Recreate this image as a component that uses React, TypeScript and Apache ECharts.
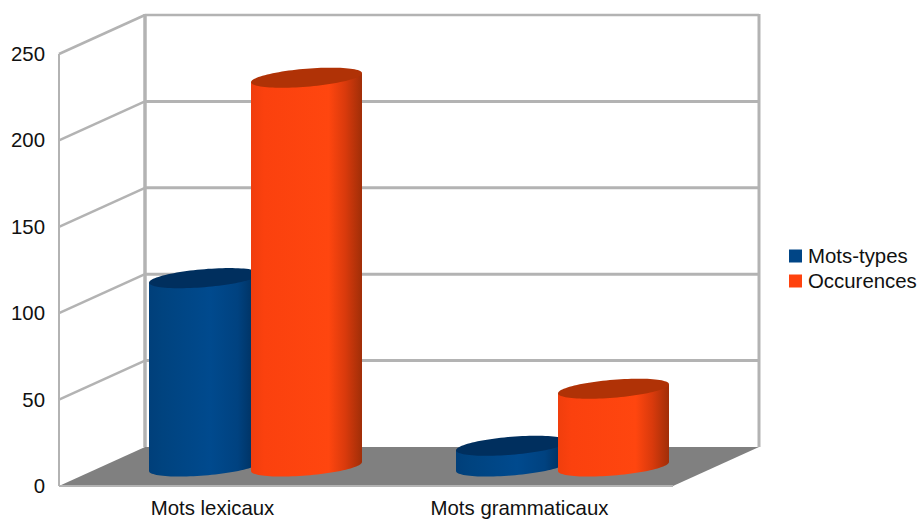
import React, { useEffect, useRef } from "react";
import * as echarts from "echarts";

const categories = ["Mots lexicaux", "Mots grammaticaux"];
const motsTypes = [109, 12];
const occurences = [225, 45];
const yTicks = [0, 50, 100, 150, 200, 250];

const DEPTH_X = 86;
const DEPTH_Y = -39;
const LINE = "#b3b3b3";
const FONT = "'Liberation Sans', Arial, sans-serif";
const TEXT_SIZE = 20.4;

function wallItem(params: any, api: any) {
  const cs = params.coordSys;
  const tick = api.value(1);
  const [, y] = api.coord([0, tick]);
  const x0 = cs.x;
  const x1 = cs.x + cs.width;
  const line = (a: number, b: number, c: number, d: number, w: number) => ({
    type: "line",
    shape: { x1: a, y1: b, x2: c, y2: d },
    style: { stroke: LINE, lineWidth: w },
  });
  const children: any[] = [];
  if (tick === 0) {
    const bottom = y;
    const top = cs.y;
    children.push({
      type: "polygon",
      shape: {
        points: [
          [x0, bottom],
          [x0 + DEPTH_X, bottom + DEPTH_Y],
          [x1 + DEPTH_X, bottom + DEPTH_Y],
          [x1, bottom],
        ],
      },
      style: { fill: "#808080" },
    });
    children.push(line(x0, top, x0, bottom, 2));
    children.push(line(x0, bottom, x1, bottom, 2));
    children.push(line(x0 + DEPTH_X, top + DEPTH_Y - 1, x0 + DEPTH_X, bottom + DEPTH_Y, 3.5));
    children.push(line(x1 + DEPTH_X, top + DEPTH_Y - 1, x1 + DEPTH_X, bottom + DEPTH_Y, 3));
  } else {
    const w = tick === 250 ? 2.5 : 3;
    children.push(line(x0, y, x0 + DEPTH_X, y + DEPTH_Y, 2.5));
    children.push(line(x0 + DEPTH_X, y + DEPTH_Y, x1 + DEPTH_X, y + DEPTH_Y, w));
  }
  return { type: "group", children };
}

function ringPoint(cx: number, cy: number, rx: number, t: number) {
  const RY = 9;
  const SHEAR = 4.5;
  return [cx + rx * Math.cos(t), cy + RY * Math.sin(t) - SHEAR * Math.cos(t)];
}

function cylinderRenderer(side: number, body: any[], topColor: string) {
  return (params: any, api: any) => {
    const idx = api.value(0);
    const [fx, topY] = api.coord([idx, api.value(1)]);
    const [, baseY] = api.coord([idx, 0]);
    const band = api.size([1, 0])[0];
    const cx = fx + DEPTH_X / 2 + (side * band * 51) / 307;
    const rx = (band * 55.5) / 307;
    const yTop = topY + DEPTH_Y / 2;
    const yBase = baseY + DEPTH_Y / 2;
    const N = 48;
    const sidePts: number[][] = [];
    for (let i = 0; i <= N; i++) {
      sidePts.push(ringPoint(cx, yBase, rx, (Math.PI * i) / N));
    }
    sidePts.push(ringPoint(cx, yTop, rx, Math.PI));
    sidePts.push(ringPoint(cx, yTop, rx, 0));
    const capPts: number[][] = [];
    for (let i = 0; i < N * 2; i++) {
      capPts.push(ringPoint(cx, yTop, rx, (Math.PI * i) / N));
    }
    return {
      type: "group",
      children: [
        {
          type: "polygon",
          shape: { points: sidePts },
          style: { fill: new echarts.graphic.LinearGradient(0, 0, 1, 0, body) },
        },
        { type: "polygon", shape: { points: capPts }, style: { fill: topColor } },
      ],
    };
  };
}

const blueBody = [
  { offset: 0, color: "#003f7a" },
  { offset: 0.12, color: "#00437f" },
  { offset: 0.55, color: "#004a8e" },
  { offset: 0.8, color: "#004280" },
  { offset: 1, color: "#002c57" },
];
const orangeBody = [
  { offset: 0, color: "#f03e0d" },
  { offset: 0.12, color: "#fb410e" },
  { offset: 0.7, color: "#ff460f" },
  { offset: 0.85, color: "#d93a0c" },
  { offset: 1, color: "#a02e08" },
];

export default function App() {
  const ref = useRef<HTMLDivElement>(null);
  useEffect(() => {
    const chart = echarts.init(ref.current!, undefined, { renderer: "svg" });
    chart.setOption({
      animation: false,
      backgroundColor: "#ffffff",
      grid: { left: 59, right: 245, top: 54, bottom: 35, outerBoundsMode: "none" },
      legend: {
        data: ["Mots-types", "Occurences"],
        orient: "vertical",
        left: 789,
        top: 246,
        padding: 0,
        icon: "rect",
        itemWidth: 13,
        itemHeight: 13,
        itemGap: 5,
        textStyle: { fontFamily: FONT, fontSize: TEXT_SIZE, color: "#111111", padding: [0, 0, 0, 1] },
      },
      xAxis: {
        type: "category",
        data: categories,
        axisLine: { show: false },
        axisTick: { show: false },
        splitLine: { show: false },
        axisLabel: { fontFamily: FONT, fontSize: TEXT_SIZE, lineHeight: 18, color: "#111111", margin: 13 },
      },
      yAxis: {
        type: "value",
        min: 0,
        max: 250,
        interval: 50,
        axisLine: { show: false },
        axisTick: { show: false },
        splitLine: { show: false },
        axisLabel: {
          fontFamily: FONT,
          fontSize: TEXT_SIZE,
          color: "#111111",
          margin: 14,
          verticalAlignMinLabel: "middle",
          verticalAlignMaxLabel: "middle",
        },
      },
      series: [
        {
          type: "custom",
          name: "walls",
          clip: false,
          silent: true,
          z: 1,
          encode: { x: 0, y: 1 },
          data: yTicks.map((t) => [0, t]),
          renderItem: wallItem,
        },
        {
          type: "custom",
          name: "Mots-types",
          clip: false,
          z: 2,
          itemStyle: { color: "#004586" },
          encode: { x: 0, y: 1 },
          data: motsTypes.map((v, i) => [i, v]),
          renderItem: cylinderRenderer(-1, blueBody, "#002f5e"),
        },
        {
          type: "custom",
          name: "Occurences",
          clip: false,
          z: 3,
          itemStyle: { color: "#ff420e" },
          encode: { x: 0, y: 1 },
          data: occurences.map((v, i) => [i, v]),
          renderItem: cylinderRenderer(1, orangeBody, "#b03206"),
        },
      ],
    });
    return () => chart.dispose();
  }, []);
  return <div ref={ref} style={{ position: "fixed", left: 0, top: 0, width: 918, height: 521 }} />;
}
